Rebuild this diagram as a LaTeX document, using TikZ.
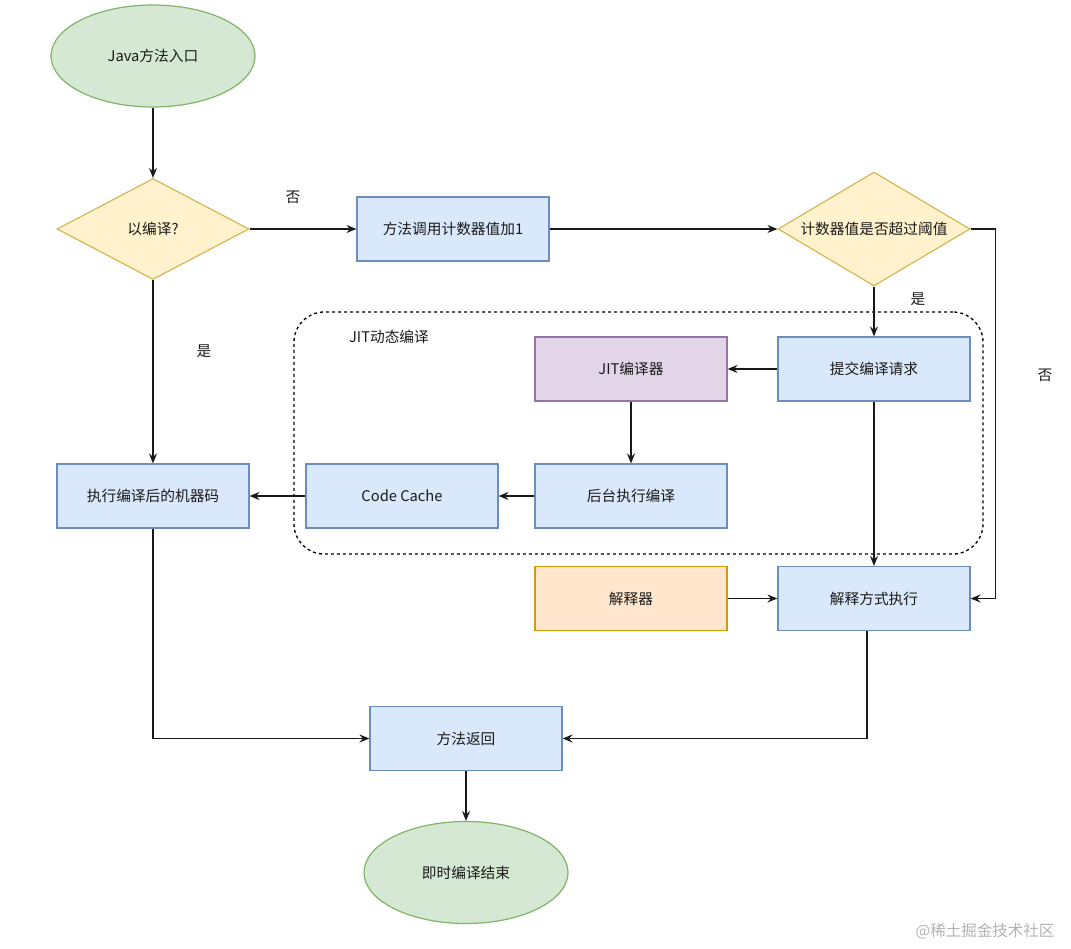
\documentclass[tikz,border=0pt]{standalone}
\usepackage{fontspec}
\setmainfont{Noto Sans CJK SC}
\usetikzlibrary{shapes.geometric,arrows.meta}
\definecolor{gfill}{HTML}{D5E8D4}\definecolor{gline}{HTML}{82B366}
\definecolor{yfill}{HTML}{FFF2CC}\definecolor{yline}{HTML}{D6B656}
\definecolor{bfill}{HTML}{DAE8FC}\definecolor{bline}{HTML}{6C8EBF}
\definecolor{pfill}{HTML}{E1D5E7}\definecolor{pline}{HTML}{9673A6}
\definecolor{ofill}{HTML}{FFE6CC}\definecolor{oline}{HTML}{D79B00}
\definecolor{txt}{HTML}{1A1A1A}
\begin{document}
\begin{tikzpicture}[x=1pt,y=-1pt,
  font=\fontsize{14.7}{17}\selectfont, text=txt,
  term/.style={ellipse, draw=gline, fill=gfill, line width=1.2pt, minimum width=204pt, minimum height=102pt, inner sep=0pt},
  dia/.style={diamond, draw=yline, fill=yfill, line width=1.2pt, minimum width=192pt, minimum height=#1, inner sep=0pt, aspect=1.7},
  blue/.style={rectangle, draw=bline, fill=bfill, line width=1.2pt, minimum width=192pt, minimum height=64pt, inner sep=0pt},
  purp/.style={blue, draw=pline, fill=pfill},
  oran/.style={blue, draw=oline, fill=ofill},
  arr/.style={draw=black!90, line width=1.6pt, -{Stealth[length=10pt,width=8pt,inset=3.5pt]}},
  lbl/.style={inner sep=0pt}]
\useasboundingbox (0,0) rectangle (1071,948);
% container
\node[draw=black, dashed, line width=1.3pt, rounded corners=30pt, minimum width=689pt, minimum height=242pt, inner sep=0pt] (jit) at (638.5,433) {};
\node[lbl] (jitlbl) at (389,337) {JIT动态编译};
% nodes
\node[term] (start) at (153,56) {Java方法入口};
\node[dia=101pt, label=center:{以编译?}] (d1) at (153,229) {};
\node[blue] (inc) at (453,229) {方法调用计数器值加1};
\node[dia=114pt, label=center:{计数器值是否超过阈值}] (d2) at (874,229) {};
\node[blue] (submit) at (874,369) {提交编译请求};
\node[purp] (jitc) at (631,369) {JIT编译器};
\node[blue] (bg) at (631,496) {后台执行编译};
\node[blue] (cc) at (402,496) {Code Cache};
\node[blue] (exec) at (153,496) {执行编译后的机器码};
\node[oran] (interpreter) at (631,598.5) {解释器};
\node[blue] (interp) at (874,598.5) {解释方式执行};
\node[blue] (ret) at (466,738.5) {方法返回};
\node[term] (end) at (466,872.5) {即时编译结束};
% labels
\node[lbl] (no1) at (293,197) {否};
\node[lbl] (yes1) at (204,351) {是};
\node[lbl] (yes2) at (918,299) {是};
\node[lbl] (no2) at (1045,375) {否};
\node[lbl, text=black!30, font=\fontsize{15.5}{17}\selectfont] (wm) at (985,931) {@稀土掘金技术社区};
% connectors
\draw[arr] (start.south) -- (d1.north);
\draw[arr] (d1.east) -- (inc.west);
\draw[arr] (inc.east) -- (d2.west);
\draw[arr] (d2.east) -- ++(25,0) |- (interp.east);
\draw[arr] (d2.south) -- (submit.north);
\draw[arr] (submit.west) -- (jitc.east);
\draw[arr] (submit.south) -- (interp.north);
\draw[arr] (jitc.south) -- (bg.north);
\draw[arr] (bg.west) -- (cc.east);
\draw[arr] (cc.west) -- (exec.east);
\draw[arr] (d1.south) -- (exec.north);
\draw[arr] (interpreter.east) -- (interp.west);
\draw[arr] (exec.south) |- (ret.west);
\draw[arr] ([xshift=-7pt]interp.south) |- (ret.east);
\draw[arr] (ret.south) -- (end.north);
\end{tikzpicture}
\end{document}
